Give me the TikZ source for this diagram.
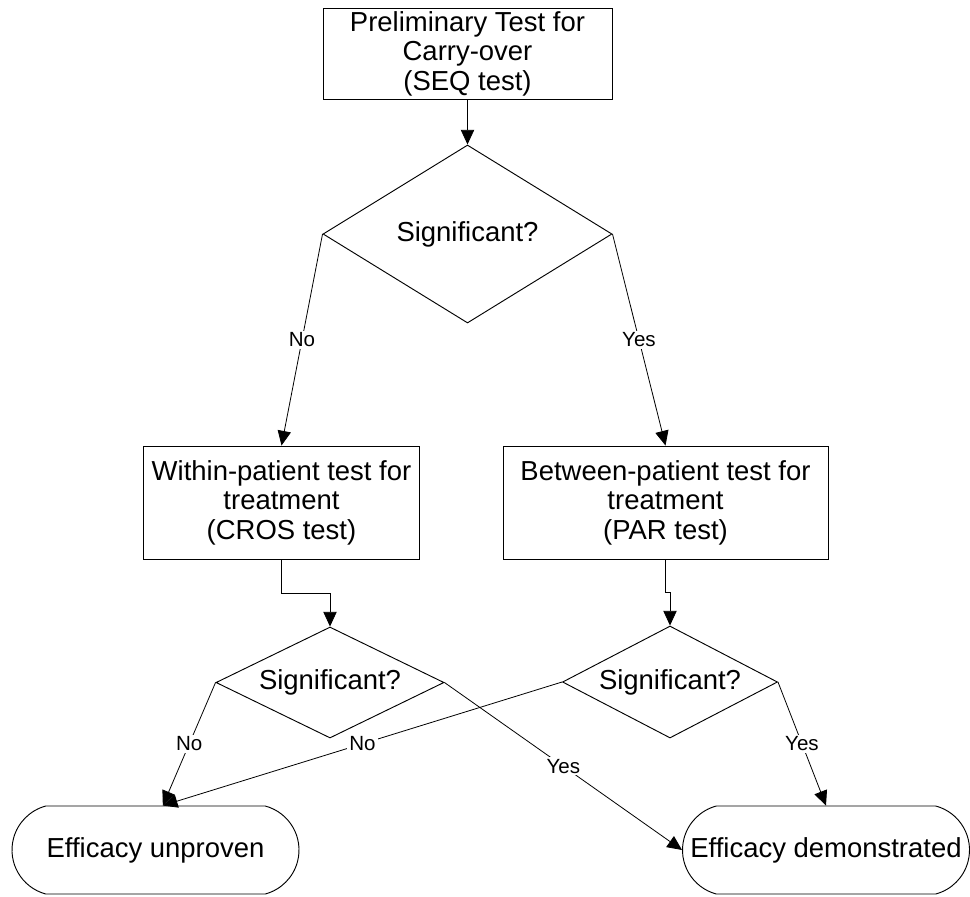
\documentclass[tikz,border=0pt]{standalone}
\usepackage{fontspec}
\setmainfont{Liberation Sans}
\usetikzlibrary{shapes.geometric, shapes.misc, arrows.meta}

\begin{document}
\begin{tikzpicture}[x=0.75pt, y=-0.75pt,
        every node/.style={align=center, font=\fontsize{20.6}{22.2}\selectfont, inner sep=0pt},
        caixa/.style={draw, rectangle, line width=0.7pt, minimum height=84.75pt},
        decisao/.style={draw, diamond, line width=0.7pt},
        fim/.style={draw, rounded rectangle, rounded rectangle arc length=150, line width=0.7pt, minimum width=215.25pt, minimum height=66pt},
        rotulo/.style={fill=white, inner sep=1.5pt, font=\fontsize{15.4}{18}\selectfont},
        seta/.style={-{Triangle[length=11pt, width=10pt]}, line width=0.6pt}
    ]
        \useasboundingbox (0,0) rectangle (970,896);
        \node[caixa, minimum width=216.75pt, minimum height=68.25pt] (carry) at (467.5,53.5) {Preliminary Test for\\Carry-over\\(SEQ test)};
        \node[decisao, aspect=1.6, minimum width=216.75pt, minimum height=133.5pt] (sig) at (467.5,234) {Significant?};
        \node[caixa, minimum width=207pt] (within) at (281.5,502.5) {Within-patient test for\\treatment\\(CROS test)};
        \node[caixa, minimum width=243.75pt] (between) at (665.5,502.5) {Between-patient test for\\treatment\\(PAR test)};
        \node[decisao, aspect=2, minimum width=171pt, minimum height=83.25pt] (sigcros) at (330,682.5) {Significant?};
        \node[decisao, aspect=1.9, minimum width=161.25pt, minimum height=84pt] (sigpar) at (670,682) {Significant?};
        \node[fim] (unproven) at (155.5,850) {Efficacy unproven};
        \node[fim] (shown) at (826,850) {Efficacy demonstrated};
        \coordinate (meet) at ([xshift=5.5pt]unproven.north);

        \draw[seta] (carry) -- (sig);
        \draw[seta] (sig.west) -- node[rotulo] {No} (within.north);
        \draw[seta] (sig.east) -- node[rotulo] {Yes} (between.north);
        \draw[seta] (within.south) -- ++(0,34) -| (sigcros.north);
        \draw[seta] (between.south) -- ++(0,33) -| (sigpar.north);
        \draw[seta] (sigcros.west) -- node[rotulo] {No} (meet);
        \draw[seta] (sigcros.east) -- node[rotulo] {Yes} (shown.west);
        \draw[seta] (sigpar.west) -- node[rotulo] {No} (meet);
        \draw[seta] (sigpar.east) -- node[rotulo] {Yes} (shown.north);
    \end{tikzpicture}
\end{document}
